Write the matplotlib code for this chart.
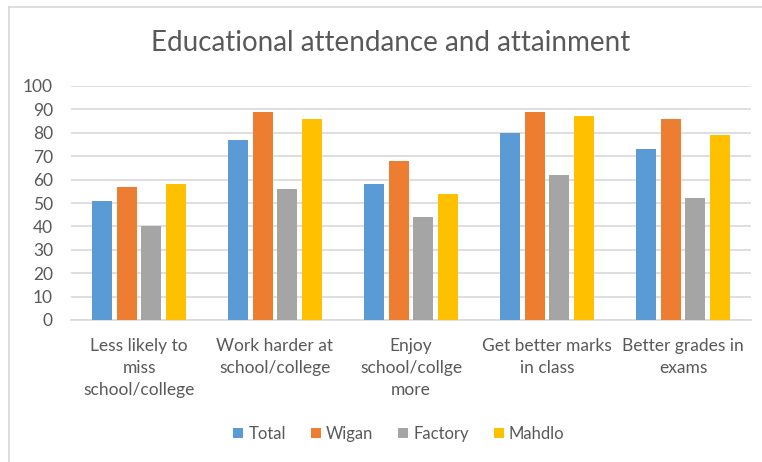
import matplotlib
matplotlib.use("Agg")
import matplotlib.pyplot as plt
import numpy as np
from matplotlib.patches import Patch
from matplotlib.lines import Line2D

categories = ["Less likely to\nmiss\nschool/college", "Work harder at\nschool/college",
              "Enjoy\nschool/collge\nmore", "Get better marks\nin class", "Better grades in\nexams"]
series_names = ["Total", "Wigan", "Factory", "Mahdlo"]
total = [51, 77, 58, 80, 73]
wigan = [57, 89, 68, 89, 86]
factory = [40, 56, 44, 62, 52]
mahdlo = [58, 86, 54, 87, 79]
yticks = [0, 10, 20, 30, 40, 50, 60, 70, 80, 90, 100]

colors = ["#5B9BD5", "#ED7D31", "#A5A5A5", "#FFC000"]
plt.rcParams['font.family'] = ['Lato', 'DejaVu Sans']
txt = "#595959"

fig = plt.figure(figsize=(7.62, 4.62), dpi=100)
W, H = 762, 462
ax = fig.add_axes([71 / W, 1 - 320 / H, (751 - 71) / W, (320 - 86) / H])

x = np.arange(len(categories))
pitch = 0.181
width = 0.145
for i, (vals, c) in enumerate(zip([total, wigan, factory, mahdlo], colors)):
    ax.bar(x + (i - 1.5) * pitch, vals, width, color=c, label=series_names[i], zorder=3)

ax.set_xlim(-0.5, len(categories) - 0.5)
ax.set_ylim(0, 100)
ax.set_yticks(yticks)
ax.set_yticklabels([str(v) for v in yticks])
ax.yaxis.grid(True, color="#D9D9D9", linewidth=1.2, zorder=0)
ax.set_axisbelow(True)
for s in ["top", "right", "left"]:
    ax.spines[s].set_visible(False)
ax.spines["bottom"].set_color("#D9D9D9")
ax.spines["bottom"].set_linewidth(1.2)
ax.set_xticks(x)
ax.set_xticklabels(categories, linespacing=1.46)
ax.tick_params(axis="y", length=0, pad=13, labelsize=12.5, labelcolor=txt)
ax.tick_params(axis="x", length=0, pad=13, labelsize=12.5, labelcolor=txt)

fig.text(391 / W, 1 - 43 / H, "Educational attendance and attainment", ha="center", va="center",
         fontsize=20, color=txt)

handles = [Patch(facecolor=c, edgecolor="none") for c in colors]
fig.legend(handles, series_names, loc="center", bbox_to_anchor=(399 / W, 1 - 434 / H), ncol=4,
           frameon=False, fontsize=12, labelcolor=txt, handlelength=0.6, handleheight=0.6,
           handletextpad=0.3, columnspacing=1.5)

# chart border (left and top visible)
fig.add_artist(Line2D([9 / W, 9 / W], [0, 1 - 7 / H], transform=fig.transFigure, color="#D9D9D9", lw=1.2))
fig.add_artist(Line2D([9 / W, 1], [1 - 7 / H, 1 - 7 / H], transform=fig.transFigure, color="#D9D9D9", lw=1.2))

fig.savefig("out.png", dpi=100)
